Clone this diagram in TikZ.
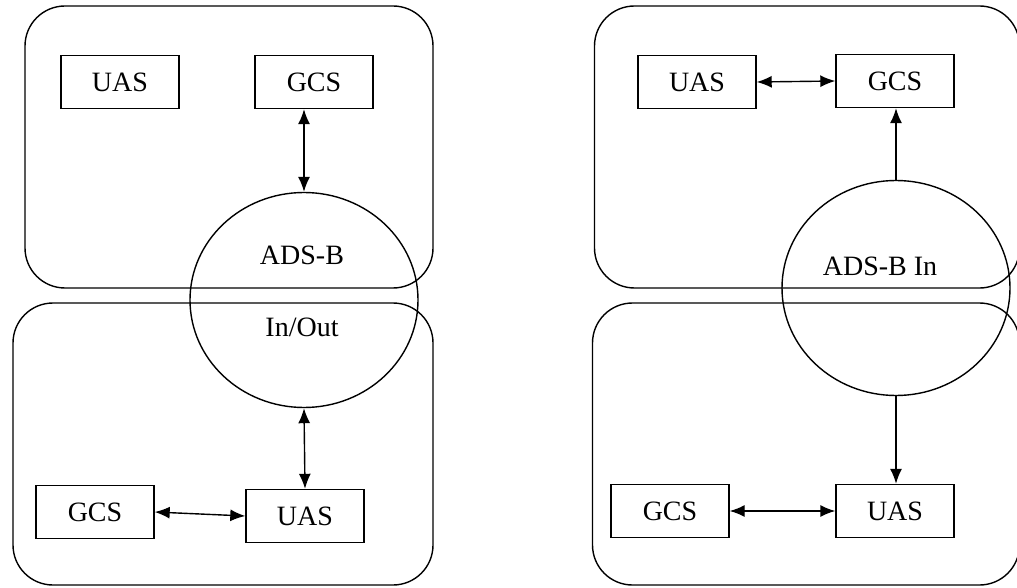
\documentclass[tikz,border=0pt]{standalone}
\usepackage{fontspec}
\setmainfont{Liberation Serif}
\usepackage{tikz}
\usetikzlibrary{arrows.meta}
\usetikzlibrary{shapes.geometric}
\tikzset{
	boxnode/.style={rectangle, draw, line width=1.4pt, minimum width=118pt, minimum height=53pt, inner sep=0pt},
	areanode/.style={rectangle, draw, line width=1.4pt, rounded corners=40pt, minimum height=282pt, inner sep=0pt},
	adsnode/.style={ellipse, draw, line width=1.4pt, minimum width=228pt, minimum height=215pt, inner sep=0pt},
	link/.style={line width=1.4pt, {Latex[length=15pt,width=12pt]}-{Latex[length=15pt,width=12pt]}},
	onelink/.style={line width=1.4pt, -{Latex[length=15pt,width=12pt]}}
}

\begin{document}
\begin{tikzpicture}[x=1pt, y=-1pt, font=\fontsize{28}{32}\selectfont]
		\useasboundingbox (0,0) rectangle (1017,588);
		% left: ADS-B In/Out
		\node[areanode, minimum width=408pt] at (229,147) (areaLT) {};
		\node[areanode, minimum width=420pt] at (223,444) (areaLB) {};
		\node[boxnode] at (120,82) (uasLT) {UAS};
		\node[boxnode] at (314,82) (gcsLT) {GCS};
		\node[adsnode] at (304,300) (adsL) {};
		\node[align=center] at (302,291) (adsLtext) {ADS-B\\[40pt]In/Out};
		\node[boxnode] at (95,512) (gcsLB) {GCS};
		\node[boxnode] at (305,516) (uasLB) {UAS};
		\draw[link] (adsL.north) -- (adsL.north |- gcsLT.south);
		\draw[link] (adsL.south) -- (uasLB.north);
		\draw[link] (gcsLB.east) -- (uasLB.west);
		% right: ADS-B In
		\node[areanode, minimum width=425pt] at (807,147) (areaRT) {};
		\node[areanode, minimum width=427pt] at (806,444) (areaRB) {};
		\node[boxnode] at (697,82) (uasRT) {UAS};
		\node[boxnode] at (895,81) (gcsRT) {GCS};
		\node[adsnode] at (896,288) (adsR) {};
		\node at (880,266) (adsRtext) {ADS-B In};
		\node[boxnode] at (670,511) (gcsRB) {GCS};
		\node[boxnode] at (895,511) (uasRB) {UAS};
		\draw[link] (uasRT.east) -- (gcsRT.west);
		\draw[onelink] (adsR.north) -- (adsR.north |- gcsRT.south);
		\draw[onelink] (adsR.south) -- (adsR.south |- uasRB.north);
		\draw[link] (gcsRB.east) -- (uasRB.west);
	\end{tikzpicture}
\end{document}
